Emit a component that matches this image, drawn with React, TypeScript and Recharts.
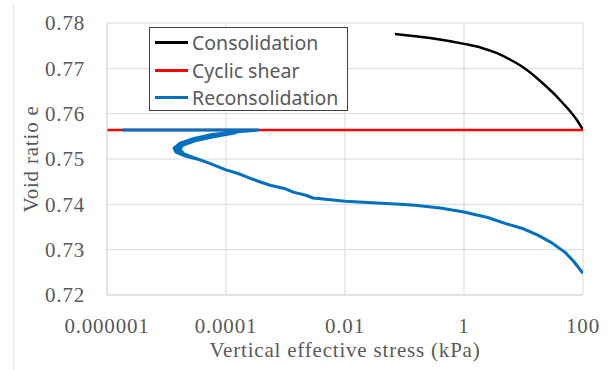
import React from "react";
import { LineChart, Line, XAxis, YAxis, CartesianGrid } from "recharts";

// stress in kPa, void ratio e
const consolidationStress = [0.069, 0.27, 1, 2, 3.5, 6, 9.7, 16, 24.6, 35, 46, 62, 79, 100];
const consolidationVoid = [
  0.7776, 0.7767, 0.7754, 0.7745, 0.7734, 0.7719, 0.7703, 0.7681, 0.7659, 0.7640, 0.7623, 0.7604, 0.7586, 0.7564,
];

const cyclicStress = [0.000001, 100];
const cyclicVoid = [0.7564, 0.7564];

// the nose of the reconsolidation path is a noisy band, traced along its edges
const reconStress = [
  0.0000018, 0.00035, 0.000159, 0.0000582, 0.0000268, 0.0000169, 0.0000134, 0.0000144, 0.0000213, 0.0000366,
  0.0000313, 0.0000197, 0.0000168, 0.0000185, 0.0000300, 0.0000620, 0.000145,
  0.0000590, 0.0000280, 0.0000180, 0.0000150, 0.0000165, 0.0000260, 0.0000520, 0.0001,
  0.00016, 0.00025, 0.00033, 0.00055, 0.00095, 0.00135, 0.0022, 0.0029, 0.01, 0.083, 0.15, 0.4,
  1, 2.5, 4.9, 10, 17.4, 30, 50, 70, 100,
];
const reconVoid = [
  0.7564, 0.7564, 0.7560, 0.7554, 0.7544, 0.7535, 0.7524, 0.7515, 0.7506, 0.7498,
  0.7501, 0.7511, 0.7521, 0.7530, 0.7540, 0.7549, 0.7558,
  0.7552, 0.7543, 0.7532, 0.7523, 0.7514, 0.7505, 0.7491, 0.7476,
  0.7468, 0.7458, 0.7452, 0.7442, 0.7435, 0.7427, 0.7420, 0.7414, 0.7407, 0.7400, 0.7398, 0.7392,
  0.7383, 0.7371, 0.7358, 0.7346, 0.7332, 0.7315, 0.7294, 0.7274, 0.7248,
];

const xTicks = [0.000001, 0.0001, 0.01, 1, 100];
const xTickLabels = ["0.000001", "0.0001", "0.01", "1", "100"];
const yTicks = [0.72, 0.73, 0.74, 0.75, 0.76, 0.77, 0.78];

const seriesNames = ["Consolidation", "Cyclic shear", "Reconsolidation"];
const seriesColors = ["#000000", "#ff0000", "#0070c0"];

const toPoints = (xs: number[], ys: number[]) => xs.map((x, i) => ({ x, e: ys[i] }));

const consolidation = toPoints(consolidationStress, consolidationVoid);
const cyclic = toPoints(cyclicStress, cyclicVoid);
const recon = toPoints(reconStress, reconVoid);

const serif = "'Liberation Serif', 'Times New Roman', serif";
const tickStyle = { fontFamily: serif, fontSize: 21, fill: "#595959", letterSpacing: 0.8 };

const LegendBox = () => (
  <div
    style={{
      position: "absolute",
      left: 149,
      top: 27,
      width: 197,
      height: 81,
      border: "1px solid #404040",
      background: "#fff",
      fontFamily: "'Noto Sans', sans-serif",
      fontSize: 19.5,
      color: "#595959",
      paddingTop: 1,
    }}
  >
    {seriesNames.map((name, i) => (
      <div key={name} style={{ display: "flex", alignItems: "center", height: 27.5 }}>
        <div style={{ width: 33, height: 3, background: seriesColors[i], marginLeft: 5, marginRight: 4 }} />
        <span style={{ lineHeight: "27px" }}>{name}</span>
      </div>
    ))}
  </div>
);

export default function App() {
  return (
    <div style={{ position: "absolute", left: 0, top: 0, width: 610, height: 370, background: "#fff" }}>
      <div style={{ position: "absolute", left: 13, top: 5, width: 1, height: 365, background: "#e6e6e6" }} />
      <LineChart width={610} height={370} margin={{ top: 23, right: 27, bottom: 0, left: 0 }}>
        <CartesianGrid stroke="#d9d9d9" strokeWidth={1} />
        <XAxis
          type="number"
          dataKey="x"
          scale="log"
          domain={[0.000001, 100]}
          ticks={xTicks}
          allowDataOverflow
          height={75}
          tickLine={false}
          axisLine={{ stroke: "#d9d9d9" }}
          tickMargin={17}
          tick={tickStyle}
          tickFormatter={(v: number) => xTickLabels[xTicks.indexOf(v)] ?? String(v)}
          label={{
            value: "Vertical effective stress (kPa)",
            position: "insideBottom",
            offset: 13,
            style: { fontFamily: serif, fontSize: 21, fill: "#595959", letterSpacing: 0.8 },
          }}
        />
        <YAxis
          type="number"
          dataKey="e"
          domain={[0.72, 0.78]}
          ticks={yTicks}
          allowDataOverflow
          width={107}
          tickLine={false}
          axisLine={{ stroke: "#d9d9d9" }}
          tickMargin={16}
          tick={tickStyle}
          tickFormatter={(v: number) => v.toFixed(2)}
          label={{
            content: () => (
              <text
                x={38}
                y={159}
                transform="rotate(-90, 38, 159)"
                textAnchor="middle"
                style={{ fontFamily: serif, fontSize: 21, fill: "#595959", letterSpacing: 0.8 }}
              >
                Void ratio e
              </text>
            ),
          }}
        />
        <Line
          data={consolidation}
          dataKey="e"
          name={seriesNames[0]}
          type="monotone"
          stroke={seriesColors[0]}
          strokeWidth={2.5}
          dot={false}
          isAnimationActive={false}
        />
        <Line
          data={cyclic}
          dataKey="e"
          name={seriesNames[1]}
          type="linear"
          stroke={seriesColors[1]}
          strokeWidth={2.5}
          dot={false}
          isAnimationActive={false}
        />
        <Line
          data={recon}
          dataKey="e"
          name={seriesNames[2]}
          type="linear"
          stroke={seriesColors[2]}
          strokeWidth={3}
          strokeLinejoin="round"
          dot={false}
          isAnimationActive={false}
        />
      </LineChart>
      <LegendBox />
    </div>
  );
}
